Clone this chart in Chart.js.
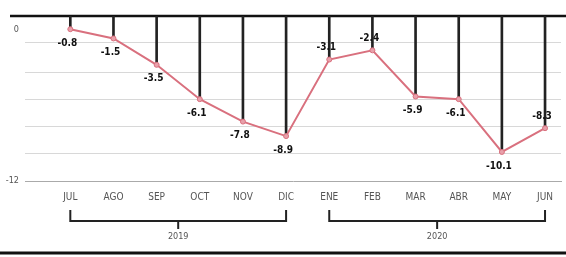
<!DOCTYPE html>
<html>
<head>
<meta charset="utf-8">
<title>Variación mensual</title>
<script src="https://cdn.jsdelivr.net/npm/chart.js@4/dist/chart.umd.min.js"></script>
<style>
    html, body { margin: 0; padding: 0; background: #fff; }
    #wrap { width: 566px; height: 257px; position: relative; }
</style>
</head>
<body>
<div id="wrap"><canvas id="chart"></canvas></div>
<script>
    // data
    var months = ['JUL', 'AGO', 'SEP', 'OCT', 'NOV', 'DIC', 'ENE', 'FEB', 'MAR', 'ABR', 'MAY', 'JUN'];
    var values = [-0.8, -1.5, -3.5, -6.1, -7.8, -8.9, -3.1, -2.4, -5.9, -6.1, -10.1, -8.3];
    var years = ['2019', '2020'];
    var yearFirst = [0, 6];
    var yearLast = [5, 11];
    var yTickLabels = ['0', '-12'];

    // scale setup (layout only)
    var yMin = -12.3, yMax = 0.2;
    var yLabelAt = [-0.86, yMin];
    var yGridAt = [-1.8, -4.05, -6.15, -8.2, -10.25];
    var labelAbove = [6, 7, 11];

    var narrow = '"Liberation Sans Narrow", "DejaVu Sans Condensed", sans-serif';

    var lineData = values.map(function(v, i) { return {x: i, y: v}; });
    var dropData = values.map(function(v, i) { return {x: i, y: [v, yMax]}; });

    var extras = {
        id: 'extras',
        beforeDatasetsDraw: function(chart) {
            var ctx = chart.ctx, a = chart.chartArea;
            ctx.save();
            // heavy rule at top
            ctx.strokeStyle = '#111';
            ctx.lineWidth = 2.5;
            ctx.beginPath();
            ctx.moveTo(10, a.top);
            ctx.lineTo(chart.width, a.top);
            ctx.stroke();
            ctx.restore();
        },
        afterDatasetsDraw: function(chart) {
            var ctx = chart.ctx, a = chart.chartArea;
            var x = chart.scales.x;
            var pts = chart.getDatasetMeta(1).data;
            ctx.save();
            // value labels
            ctx.font = 'bold 10px ' + narrow;
            ctx.fillStyle = '#111';
            ctx.textAlign = 'center';
            ctx.textBaseline = 'middle';
            pts.forEach(function(p, i) {
                var up = labelAbove.indexOf(i) >= 0;
                ctx.fillText(values[i].toFixed(1), p.x - 3, p.y + (up ? -12 : 14));
            });

            // year brackets
            var top = a.bottom + 29, mid = a.bottom + 40;
            ctx.strokeStyle = '#222';
            ctx.lineWidth = 2;
            ctx.font = '9px ' + narrow;
            ctx.fillStyle = '#555';
            years.forEach(function(y, k) {
                var x0 = x.getPixelForValue(yearFirst[k]);
                var x1 = x.getPixelForValue(yearLast[k]);
                var xc = (x0 + x1) / 2;
                ctx.beginPath();
                ctx.moveTo(x0, top);
                ctx.lineTo(x0, mid);
                ctx.lineTo(x1, mid);
                ctx.lineTo(x1, top);
                ctx.moveTo(xc, mid);
                ctx.lineTo(xc, mid + 8);
                ctx.stroke();
                ctx.fillText(y, xc, mid + 16);
            });

            // heavy rule at bottom
            ctx.strokeStyle = '#111';
            ctx.lineWidth = 3;
            ctx.beginPath();
            ctx.moveTo(0, chart.height - 4);
            ctx.lineTo(chart.width, chart.height - 4);
            ctx.stroke();
            ctx.restore();
        }
    };

    new Chart(document.getElementById('chart'), {
        data: {
            datasets: [{
                type: 'bar',
                data: dropData,
                backgroundColor: '#222',
                barThickness: 2,
                order: 2
            }, {
                type: 'line',
                data: lineData,
                borderColor: '#d9707e',
                borderWidth: 2,
                pointRadius: 2.5,
                pointBackgroundColor: '#e8a0aa',
                pointBorderColor: '#d9707e',
                pointBorderWidth: 1,
                tension: 0,
                order: 1
            }]
        },
        options: {
            responsive: true,
            maintainAspectRatio: false,
            animation: false,
            events: [],
            layout: { padding: { top: 16, right: 0, bottom: 44, left: 0 } },
            plugins: {
                legend: { display: false },
                tooltip: { enabled: false }
            },
            scales: {
                x: {
                    type: 'linear',
                    offset: false,
                    min: -1.05,
                    max: 11.37,
                    afterBuildTicks: function(s) {
                        s.ticks = months.map(function(m, i) { return {value: i}; });
                    },
                    ticks: {
                        autoSkip: false,
                        maxRotation: 0,
                        padding: 10,
                        color: '#555',
                        font: { family: narrow, size: 10 },
                        callback: function(v) { return months[v]; }
                    },
                    grid: { display: false, drawTicks: false },
                    border: { display: true, color: '#aaa', width: 1, dash: [1, 2] }
                },
                y: {
                    type: 'linear',
                    min: yMin,
                    max: yMax,
                    afterFit: function(s) { s.width = 25; },
                    afterBuildTicks: function(s) {
                        s.ticks = yGridAt.concat(yLabelAt).map(function(v) { return {value: v}; });
                    },
                    ticks: {
                        padding: 6,
                        color: '#555',
                        font: { family: narrow, size: 9 },
                        callback: function(v) {
                            var k = yLabelAt.indexOf(v);
                            return k >= 0 ? yTickLabels[k] : '';
                        }
                    },
                    grid: {
                        drawTicks: false,
                        lineWidth: 1,
                        color: function(c) {
                            return c.tick && yGridAt.indexOf(c.tick.value) >= 0 ? '#d8d8d8' : 'rgba(0,0,0,0)';
                        }
                    },
                    border: { display: false }
                }
            }
        },
        plugins: [extras]
    });
</script>
</body>
</html>
